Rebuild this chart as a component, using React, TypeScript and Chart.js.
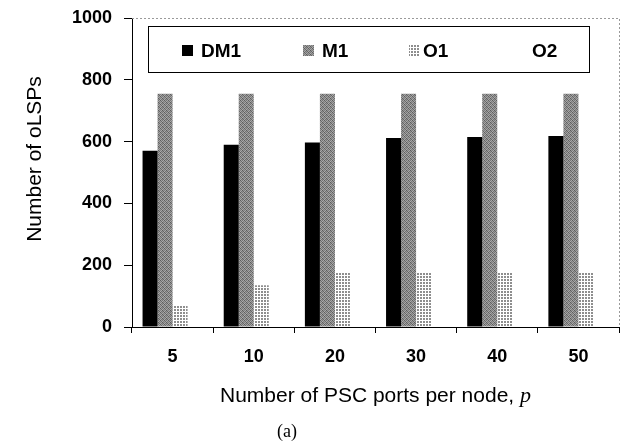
import React, { useEffect, useRef } from 'react';
import { Chart, registerables } from 'chart.js';

Chart.register(...registerables);

const categories = ['5', '10', '20', '30', '40', '50'];
const seriesNames = ['DM1', 'M1', 'O1', 'O2'];
const dm1Values = [570, 590, 597, 612, 615, 618];
const m1Values = [755, 755, 755, 755, 755, 755];
const o1Values = [68, 135, 177, 175, 178, 175];
const o2Values = [0, 0, 0, 0, 0, 0];
const yTicks = [0, 200, 400, 600, 800, 1000];

const SANS = '"Liberation Sans", Arial, Helvetica, sans-serif';
const SERIF = '"Liberation Serif", "Times New Roman", serif';

function makePattern(ctx: CanvasRenderingContext2D, tile: string[][]): CanvasPattern | string {
  const c = document.createElement('canvas');
  c.width = tile[0].length;
  c.height = tile.length;
  const g = c.getContext('2d')!;
  for (let y = 0; y < tile.length; y++) {
    for (let x = 0; x < tile[y].length; x++) {
      g.fillStyle = tile[y][x];
      g.fillRect(x, y, 1, 1);
    }
  }
  return ctx.createPattern(c, 'repeat') || '#999';
}

export default function App() {
  const ref = useRef<HTMLCanvasElement>(null);

  useEffect(() => {
    const canvas = ref.current!;
    const ctx = canvas.getContext('2d')!;

    const m1Fill = makePattern(ctx, [
      ['#5e5e5e', '#a0a0a0', '#767676', '#a8a8a8'],
      ['#9a9a9a', '#6a6a6a', '#acacac', '#7c7c7c'],
      ['#808080', '#a8a8a8', '#5c5c5c', '#969696'],
      ['#acacac', '#727272', '#929292', '#666666'],
    ]);
    const W = '#ffffff';
    const G = '#8e8e8e';
    const o1Fill = makePattern(ctx, [
      [G, G, W],
      [G, G, W],
      [W, W, W],
    ]);

    const fills: (string | CanvasPattern)[] = ['#000000', m1Fill, o1Fill, '#ffffff'];

    const decor = {
      id: 'decor',
      afterDraw(chart: any) {
        const c = chart.ctx as CanvasRenderingContext2D;
        const a = chart.chartArea;
        c.save();
        // dotted top & right frame
        c.strokeStyle = '#9a9a9a';
        c.lineWidth = 1;
        c.setLineDash([2, 2]);
        c.beginPath();
        c.moveTo(a.left, a.top + 0.5);
        c.lineTo(a.right + 0.5, a.top + 0.5);
        c.lineTo(a.right + 0.5, a.bottom);
        c.stroke();
        c.setLineDash([]);

        // legend box
        c.fillStyle = '#ffffff';
        c.fillRect(148, 26, 441, 46);
        c.strokeStyle = '#000000';
        c.lineWidth = 1;
        c.strokeRect(148.5, 26.5, 441, 46);
        const swX = [182, 303, 409, 513];
        const txX = [201, 322, 423, 532];
        c.font = `bold 19px ${SANS}`;
        c.textBaseline = 'alphabetic';
        c.textAlign = 'left';
        seriesNames.forEach((name, i) => {
          c.fillStyle = fills[i] as any;
          c.fillRect(swX[i], 45, 11, 11);
          c.fillStyle = '#000000';
          c.fillText(name, txX[i], 57);
        });

        // y title
        c.save();
        c.translate(35, 159);
        c.rotate(-Math.PI / 2);
        c.font = `21px ${SANS}`;
        c.textAlign = 'center';
        c.textBaseline = 'middle';
        c.fillStyle = '#000';
        c.fillText('Number of oLSPs', 0, 0);
        c.restore();

        // x title with italic p
        c.font = `21px ${SANS}`;
        const main = 'Number of PSC ports per node, ';
        const mw = c.measureText(main).width;
        c.font = `italic 22px ${SERIF}`;
        const pw = c.measureText('p').width;
        const cx = (a.left + a.right) / 2;
        const x0 = cx - (mw + pw) / 2;
        c.fillStyle = '#000';
        c.textAlign = 'left';
        c.textBaseline = 'alphabetic';
        c.font = `21px ${SANS}`;
        c.fillText(main, x0, 402);
        c.font = `italic 22px ${SERIF}`;
        c.fillText('p', x0 + mw, 402);

        // caption
        c.font = `18px ${SERIF}`;
        c.textAlign = 'center';
        c.fillText('(a)', 287, 437);
        c.restore();
      },
    };

    const chart = new Chart(ctx, {
      type: 'bar',
      data: {
        labels: categories,
        datasets: [
          { label: seriesNames[0], data: dm1Values, backgroundColor: fills[0] as any, borderWidth: 0 },
          { label: seriesNames[1], data: m1Values, backgroundColor: fills[1] as any, borderWidth: 0 },
          { label: seriesNames[2], data: o1Values, backgroundColor: fills[2] as any, borderWidth: 0 },
          { label: seriesNames[3], data: o2Values, backgroundColor: fills[3] as any, borderWidth: 0 },
        ],
      },
      options: {
        responsive: false,
        animation: false,
        devicePixelRatio: 1,
        layout: { padding: { top: 18, right: 6, left: 0, bottom: 0 } },
        datasets: { bar: { categoryPercentage: 0.74, barPercentage: 1 } },
        plugins: { legend: { display: false }, tooltip: { enabled: false } },
        scales: {
          x: {
            grid: { display: true, offset: true, drawOnChartArea: false, tickLength: 6, color: '#000' },
            border: { color: '#000', width: 1 },
            ticks: {
              color: '#000',
              font: { family: SANS, size: 18, weight: 'bold' },
              padding: 13,
              maxRotation: 0,
            },
            afterFit: (s: any) => {
              s.height = 114;
              s.paddingLeft = 0;
              s.paddingRight = 0;
            },
          },
          y: {
            min: 0,
            max: 1000,
            afterBuildTicks: (s: any) => {
              s.ticks = yTicks.map((v) => ({ value: v }));
            },
            grid: { display: true, drawOnChartArea: false, tickLength: 8, color: '#000' },
            border: { color: '#000', width: 1 },
            ticks: {
              color: '#000',
              font: { family: SANS, size: 18, weight: 'bold' },
              padding: 12,
              callback: (v: any) => String(v),
            },
            afterFit: (s: any) => {
              s.width = 132;
              s.paddingTop = 0;
              s.paddingBottom = 0;
            },
          },
        },
      },
      plugins: [decor],
    });

    return () => chart.destroy();
  }, []);

  return (
    <div style={{ position: 'absolute', left: 0, top: 0, width: 625, height: 441, background: '#fff' }}>
      <canvas ref={ref} width={625} height={441} style={{ display: 'block' }} />
    </div>
  );
}
